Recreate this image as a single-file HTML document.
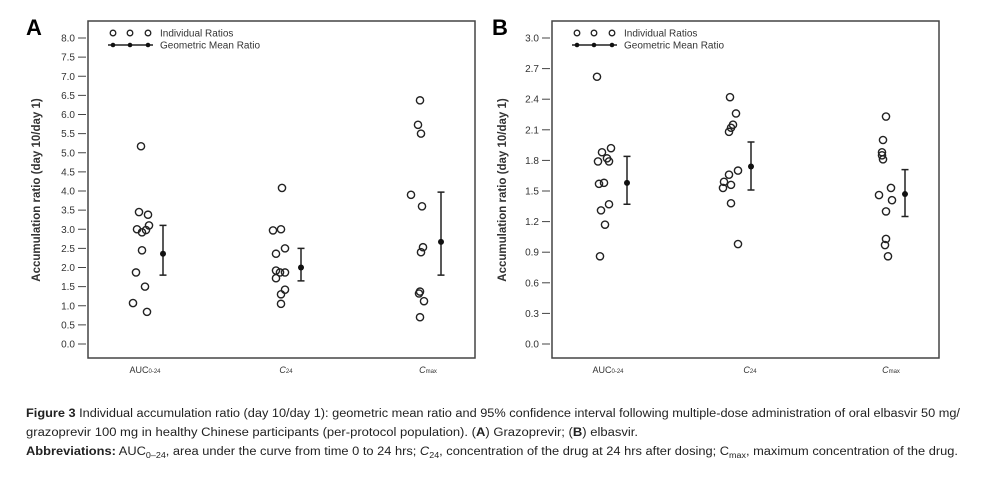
<!DOCTYPE html>
<html><head><meta charset="utf-8"><style>
body{margin:0;background:#fff;}
svg{display:block;font-family:"Liberation Sans",Arial,sans-serif;}
</style></head><body>
<svg id="fig" width="986" height="478" viewBox="0 0 986 478">
<g id="pA"></g>
<g id="pB"></g>
<g font-size="11.5" fill="#222">
<text x="26" y="417" textLength="934" lengthAdjust="spacingAndGlyphs"><tspan font-weight="bold">Figure 3</tspan> Individual accumulation ratio (day 10/day 1): geometric mean ratio and 95% confidence interval following multiple-dose administration of oral elbasvir 50 mg/</text>
<text x="26" y="436" textLength="612" lengthAdjust="spacingAndGlyphs">grazoprevir 100 mg in healthy Chinese participants (per-protocol population). (<tspan font-weight="bold">A</tspan>) Grazoprevir; (<tspan font-weight="bold">B</tspan>) elbasvir.</text>
<text x="26" y="455" textLength="932" lengthAdjust="spacingAndGlyphs"><tspan font-weight="bold">Abbreviations:</tspan> AUC<tspan font-size="8" dy="3">0–24</tspan><tspan dy="-3">, area under the curve from time 0 to 24 hrs; </tspan><tspan font-style="italic">C</tspan><tspan font-size="8" dy="3">24</tspan><tspan dy="-3">, concentration of the drug at 24 hrs after dosing; C</tspan><tspan font-size="8" dy="3">max</tspan><tspan dy="-3">, maximum concentration of the drug.</tspan></text>
</g>
</svg>
<script>
const categories=["AUC0-24","C24","Cmax"];
const aTicks=["0.0","0.5","1.0","1.5","2.0","2.5","3.0","3.5","4.0","4.5","5.0","5.5","6.0","6.5","7.0","7.5","8.0"];
const aAuc=[5.17,3.45,3.38,3.0,3.1,2.98,2.92,2.45,1.87,1.5,1.07,0.84];
const aC24=[4.08,2.97,3.0,2.5,2.36,1.92,1.87,1.87,1.72,1.42,1.3,1.05];
const aCmax=[6.37,5.73,5.5,3.9,3.6,2.53,2.4,1.37,1.32,1.12,0.7];
const aMean=[2.36,2.0,2.67];
const aLow=[1.8,1.65,1.8];
const aHigh=[3.1,2.5,3.97];
const bTicks=["0.0","0.3","0.6","0.9","1.2","1.5","1.8","2.1","2.4","2.7","3.0"];
const bAuc=[2.62,1.88,1.92,1.79,1.82,1.79,1.57,1.58,1.37,1.31,1.17,0.86];
const bC24=[2.42,2.26,2.15,2.12,2.08,1.7,1.66,1.59,1.56,1.53,1.38,0.98];
const bCmax=[2.23,2.0,1.88,1.85,1.81,1.53,1.46,1.41,1.3,1.03,0.97,0.86];
const bMean=[1.58,1.74,1.47];
const bLow=[1.37,1.51,1.25];
const bHigh=[1.84,1.98,1.71];
// jitter (layout only)
const jA=[[-2,-4,5,-6,6,3,-1,-1,-7,2,-10,4],[3,-6,2,6,-3,-3,1,6,-3,6,2,2],[0,-2,1,-9,2,3,1,0,-1,4,0]];
const jB=[[-6,-1,8,-5,4,6,-4,1,6,-2,2,-3],[0,6,3,1,-1,8,-1,-6,1,-7,1,8],[6,3,2,2,3,11,-1,12,6,6,5,8]];
const NS="http://www.w3.org/2000/svg";
function mk(p,t,a){const e=document.createElementNS(NS,t);for(const k in a)e.setAttribute(k,a[k]);p.appendChild(e);return e;}
function panel(g,o){
  const y=v=>344-(v/o.max)*306;
  const fr=mk(g,'rect',{x:o.bx,y:21,width:o.bw,height:337,fill:'none',stroke:'#444','stroke-width':1.5});
  
  const lt=mk(g,'text',{x:o.lx,y:35,'font-size':22,'font-weight':'bold',fill:'#000'});lt.textContent=o.label;
  
  o.ticks.forEach(t=>{const yy=y(parseFloat(t));
    const l=mk(g,'line',{x1:o.bx-10,x2:o.bx-2,y1:yy,y2:yy,stroke:'#444','stroke-width':1});
    
    const tx=mk(g,'text',{x:o.bx-13,y:yy+3.5,'font-size':10,fill:'#333','text-anchor':'end'});tx.textContent=t;
    });
  const yl=mk(g,'text',{x:0,y:0,'font-size':11.5,'font-weight':'bold',fill:'#333','text-anchor':'middle',transform:`translate(${o.ylx},190) rotate(-90)`});
  yl.textContent='Accumulation ratio (day 10/day 1)';
  
  o.legC.forEach(cx=>{const c=mk(g,'circle',{cx:cx,cy:33,r:2.8,fill:'none',stroke:'#222','stroke-width':1.3});
    });
  const ll=mk(g,'line',{x1:o.legC[0]-5,x2:o.legC[2]+5,y1:45,y2:45,stroke:'#222','stroke-width':1.5});
  
  o.legC.forEach(cx=>{const c=mk(g,'circle',{cx:cx,cy:45,r:2.3,fill:'#111'});
    });
  const t1=mk(g,'text',{x:o.legC[2]+12,y:36.5,'font-size':10,fill:'#333'});t1.textContent='Individual Ratios';
  
  const t2=mk(g,'text',{x:o.legC[2]+12,y:48.5,'font-size':10,fill:'#333'});t2.textContent='Geometric Mean Ratio';
  
  o.series.forEach((s,i)=>{
    s.forEach((v,k)=>{const c=mk(g,'circle',{cx:o.cx[i]+o.j[i][k],cy:y(v),r:3.6,fill:'none',stroke:'#222','stroke-width':1.4});
      });
    const mx=o.mx[i];
    const el=mk(g,'path',{d:`M${mx},${y(o.low[i])}V${y(o.high[i])}M${mx-3.5},${y(o.low[i])}H${mx+3.5}M${mx-3.5},${y(o.high[i])}H${mx+3.5}`,stroke:'#222','stroke-width':1.5,fill:'none'});
    
    const d=mk(g,'circle',{cx:mx,cy:y(o.mean[i]),r:3,fill:'#111'});
    
    const lab=mk(g,'text',{x:o.catx[i],y:373,'font-size':9,fill:'#333','text-anchor':'middle'});
    if(i===0){lab.innerHTML='AUC<tspan font-size="6">0-24</tspan>';}
    else if(i===1){lab.innerHTML='<tspan font-style="italic">C</tspan><tspan font-size="6">24</tspan>';}
    else{lab.innerHTML='<tspan font-style="italic">C</tspan><tspan font-size="6">max</tspan>';}
    
  });
}
panel(document.getElementById('pA'),{max:8,bx:88,bw:387,lx:26,label:'A',ticks:aTicks,ylx:40,legC:[113,130,148],
  series:[aAuc,aC24,aCmax],mean:aMean,low:aLow,high:aHigh,cx:[143,279,420],mx:[163,301,441],catx:[145,286,428],j:jA});
panel(document.getElementById('pB'),{max:3,bx:552,bw:387,lx:492,label:'B',ticks:bTicks,ylx:506,legC:[577,594,612],
  series:[bAuc,bC24,bCmax],mean:bMean,low:bLow,high:bHigh,cx:[603,730,880],mx:[627,751,905],catx:[608,750,891],j:jB});
</script>
</body></html>
